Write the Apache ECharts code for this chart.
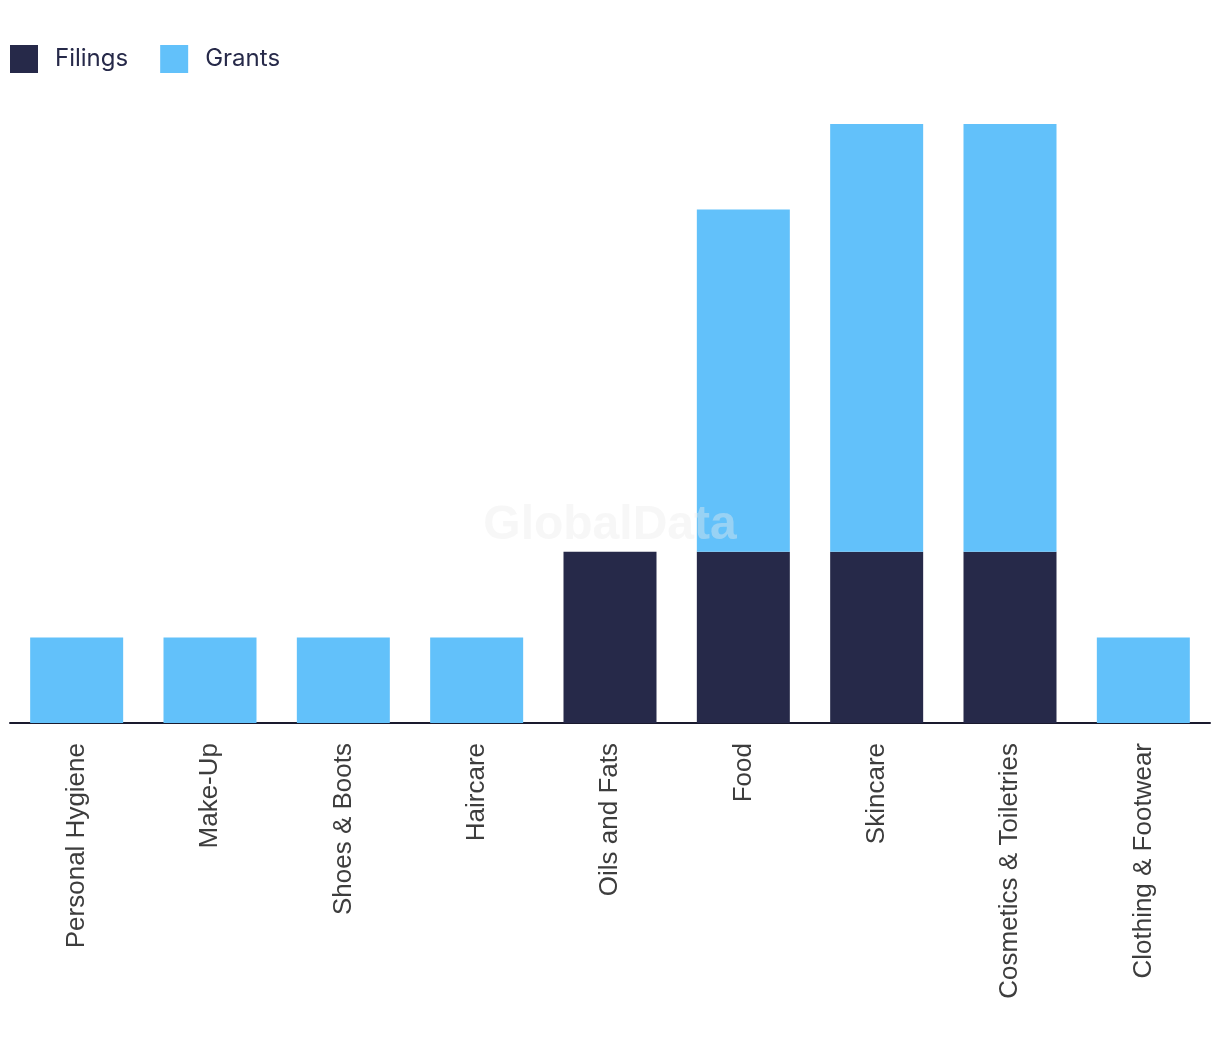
<!DOCTYPE html>
<html><head><meta charset="utf-8">
<script src="https://cdn.jsdelivr.net/npm/echarts@6/dist/echarts.min.js"></script>
<style>html,body{margin:0;padding:0;background:#fff}#c{width:1220px;height:1048px}</style>
</head><body><div id="c"></div>
<script>
const categories = ["Personal Hygiene","Make-Up","Shoes & Boots","Haircare","Oils and Fats","Food","Skincare","Cosmetics & Toiletries","Clothing & Footwear"];
const filings = [0,0,0,0,2,2,2,2,0];
const grants  = [1,1,1,1,0,4,5,5,1];

const chart = echarts.init(document.getElementById('c'), null, {renderer:'canvas'});
chart.setOption({
  animation:false,
  backgroundColor:'#fff',
  graphic:[{type:'text',left:'center',top:502,z:100,silent:true,style:{text:'GlobalData',font:'bold 48px "Liberation Sans", Arial, sans-serif',fill:'rgba(235,235,235,0.4)'}}],
  legend:{left:10,top:45,padding:0,itemWidth:28,itemHeight:28,itemGap:32,icon:'rect',
    textStyle:{fontFamily:'Inter, "Noto Sans", sans-serif',fontSize:24,color:'#262949',padding:[0,0,0,12]},
    data:['Filings','Grants']},
  grid:{left:10,right:10,top:124,bottom:325,containLabel:false},
  xAxis:{type:'category',data:categories,
    axisLine:{lineStyle:{color:'#1a1a2e',width:2}},axisTick:{show:false},
    axisLabel:{rotate:90,margin:20,fontSize:26,color:'#3d3d3d',fontFamily:'"Liberation Sans", Arial, sans-serif',interval:0}},
  yAxis:{type:'value',min:0,max:7,show:false,splitLine:{show:false}},
  series:[
    {name:'Filings',type:'bar',stack:'t',data:filings,barWidth:93,itemStyle:{color:'#262949'},z:2},
    {name:'Grants',type:'bar',stack:'t',data:grants,barWidth:93,itemStyle:{color:'#62C1FA'},z:2}
  ]
});
</script></body></html>
